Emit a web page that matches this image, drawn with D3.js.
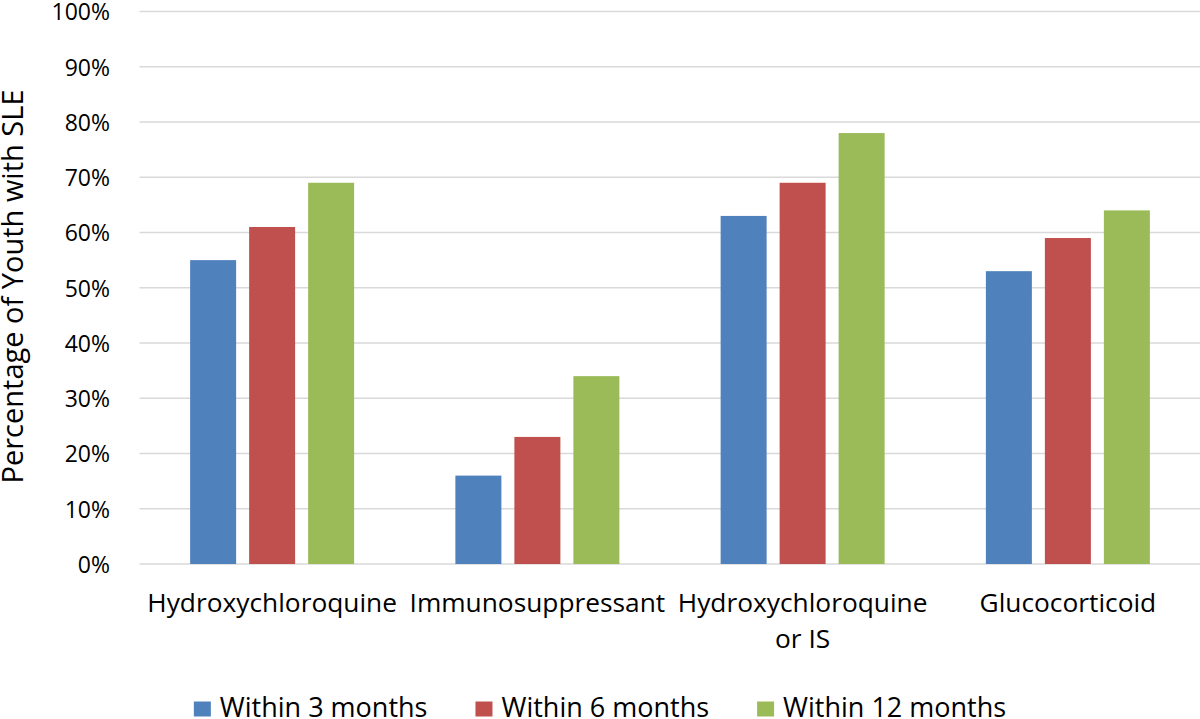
<!DOCTYPE html>
<html>
<head>
<meta charset="utf-8">
<script src="https://cdn.jsdelivr.net/npm/d3@7"></script>
<style>
  html, body { margin: 0; padding: 0; background: #fff; }
  svg text { font-family: "Open Sans", "Lato", sans-serif; fill: #000; }
</style>
</head>
<body>
<svg id="chart" width="1200" height="719"></svg>
<script>
const categories = ["Hydroxychloroquine", "Immunosuppressant", "Hydroxychloroquine\nor IS", "Glucocorticoid"];
const seriesNames = ["Within 3 months", "Within 6 months", "Within 12 months"];
const within3 = [55, 16, 63, 53];
const within6 = [61, 23, 69, 59];
const within12 = [69, 34, 78, 64];
const yTicks = [0, 10, 20, 30, 40, 50, 60, 70, 80, 90, 100];
const colors = ["#4f81bd", "#c0504d", "#9bbb59"];
const yTitle = "Percentage of Youth with SLE";

const seriesValues = [within3, within6, within12];
const data = categories.map((c, i) => ({
  cat: c,
  vals: seriesNames.map((s, j) => ({ series: s, j: j, v: seriesValues[j][i] }))
}));

const svg = d3.select("#chart");
const plot = { left: 139.5, right: 1200.5, top: 11.5, bottom: 564 };

const x0 = d3.scaleBand().domain(categories).range([plot.left, plot.right]).paddingInner(0).paddingOuter(0);
const groupW = 164;
const x1 = d3.scaleBand().domain(seriesNames).range([0, groupW]).paddingInner(13 / 59).paddingOuter(0);
const y = d3.scaleLinear().domain([0, 100]).range([plot.bottom, plot.top]);

// gridlines
svg.append("g").selectAll("line").data(yTicks).join("line")
  .attr("x1", plot.left).attr("x2", plot.right)
  .attr("y1", d => y(d)).attr("y2", d => y(d))
  .attr("stroke", "#d9d9d9").attr("stroke-width", 1.5);

// y axis labels
const yAxis = d3.axisLeft(y).tickValues(yTicks).tickSize(0).tickPadding(0).tickFormat(d => d + "%");
const yg = svg.append("g").attr("transform", "translate(110,0)").call(yAxis);
yg.select(".domain").remove();
yg.selectAll("text").attr("font-size", 23).attr("font-family", "Open Sans").attr("dy", "0.36em").attr("fill", "#000");

// bars
const groups = svg.append("g").selectAll("g").data(data).join("g")
  .attr("transform", d => `translate(${x0(d.cat) + (x0.bandwidth() - groupW) / 2},0)`);
groups.selectAll("rect").data(d => d.vals).join("rect")
  .attr("x", d => x1(d.series))
  .attr("width", x1.bandwidth())
  .attr("y", d => y(d.v))
  .attr("height", d => y(0) - y(d.v))
  .attr("fill", d => colors[d.j]);

// x labels
const xl = svg.append("g").selectAll("text").data(categories).join("text")
  .attr("text-anchor", "middle")
  .attr("font-size", 26.3)
  .attr("x", d => x0(d) + x0.bandwidth() / 2)
  .attr("y", 612);
xl.each(function(d) {
  const lines = d.split("\n");
  d3.select(this).selectAll("tspan").data(lines).join("tspan")
    .attr("x", x0(d) + x0.bandwidth() / 2)
    .attr("dy", (l, i) => i === 0 ? 0 : 36)
    .text(l => l);
});

// y title
svg.append("text")
  .attr("transform", "translate(23,286.5) rotate(-90)")
  .attr("text-anchor", "middle")
  .attr("font-size", 29)
  .text(yTitle);

// legend
const leg = svg.append("g");
const items = leg.selectAll("g").data(seriesNames).join("g");
items.append("rect").attr("width", 17).attr("height", 15).attr("y", 701.5).attr("fill", (d, i) => colors[i]);
items.append("text").attr("x", 26).attr("y", 716.5).attr("font-size", 27).text(d => d);
const widths = [];
items.each(function() { widths.push(26 + d3.select(this).select("text").node().getComputedTextLength()); });
const gap = 48;
const total = d3.sum(widths) + gap * (widths.length - 1);
let start = 600 - total / 2;
items.attr("transform", (d, i) => {
  const t = `translate(${start},0)`;
  start += widths[i] + gap;
  return t;
});
</script>
</body>
</html>
